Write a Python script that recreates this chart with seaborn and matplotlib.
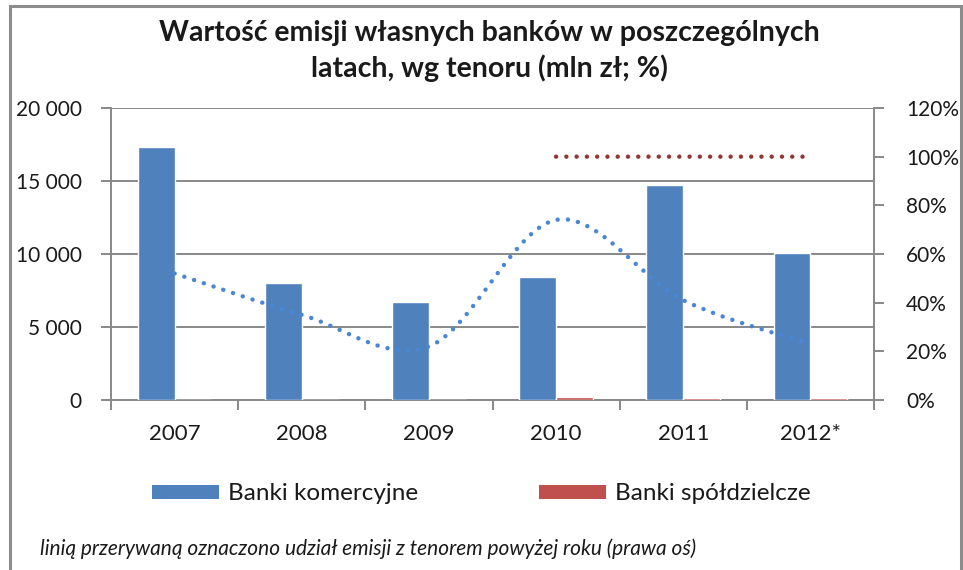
import numpy as np
import pandas as pd
import matplotlib
matplotlib.use("Agg")
import matplotlib.pyplot as plt
from matplotlib.path import Path
from matplotlib.patches import PathPatch, Patch, Rectangle
from matplotlib.ticker import FuncFormatter
import seaborn as sns

# data
years = ["2007", "2008", "2009", "2010", "2011", "2012*"]
komercyjne = [17300, 8000, 6700, 8400, 14700, 10100]      # mln zl
spoldzielcze = [0, 0, 0, 200, 150, 150]                   # mln zl
tenor_kom = [0.52, 0.35, 0.22, 0.74, 0.41, 0.23]          # share > 1 year
tenor_spol_years = ["2010", "2011", "2012*"]
tenor_spol = [1.0, 1.0, 1.0]

series_names = ["Banki komercyjne", "Banki spółdzielcze"]
blue = "#4F81BD"
red = "#C0504D"
grid_col = "#888888"

sns.set_theme(style="white")
plt.rcParams["font.family"] = ["Lato", "DejaVu Sans"]

df = pd.DataFrame({
    "rok": years * 2,
    "wartosc": komercyjne + spoldzielcze,
    "typ": [series_names[0]] * len(years) + [series_names[1]] * len(years),
})

fig = plt.figure(figsize=(9.63, 5.70), dpi=100)
ax = fig.add_axes([111 / 963, 1 - 400 / 570, (874 - 111) / 963, (400 - 108) / 570])

sns.barplot(data=df, x="rok", y="wartosc", hue="typ", order=years,
            hue_order=series_names, palette=[blue, red], width=0.58, gap=0,
            saturation=1, legend=False, ax=ax, zorder=3)

ax.set_xlim(-0.5, len(years) - 0.5)
ax.set_ylim(0, 20000)
ax.set_yticks(np.arange(0, 20001, 5000))
ax.yaxis.set_major_formatter(FuncFormatter(lambda v, p: f"{int(v):,}".replace(",", " ")))
ax.set_xlabel("")
ax.set_ylabel("")
ax.grid(axis="y", color=grid_col, linewidth=1.4, zorder=0)
ax.set_axisbelow(True)
for s in ["top", "right"]:
    ax.spines[s].set_visible(False)
for s in ["left", "bottom"]:
    ax.spines[s].set_color(grid_col)
    ax.spines[s].set_linewidth(1.4)

# category boundary ticks on x, labels at centres
ax.set_xticks(np.arange(-0.5, len(years), 1.0), minor=True)
ax.tick_params(axis="x", which="minor", length=7, width=1.4, color=grid_col, direction="out", bottom=True)
ax.tick_params(axis="x", which="major", length=0, pad=17, labelsize=16, labelcolor="#1a1a1a")
ax.tick_params(axis="y", length=7, width=1.4, color=grid_col, direction="out", pad=14,
               labelsize=15, labelcolor="#1a1a1a")

ax2 = ax.twinx()
ax2.set_ylim(0, 1.2)
ax2.set_yticks(np.arange(0, 1.21, 0.2))
ax2.yaxis.set_major_formatter(FuncFormatter(lambda v, p: f"{v * 100:.0f}%"))
ax2.tick_params(axis="y", length=7, width=1.4, color=grid_col, direction="out", pad=16,
                labelsize=15, labelcolor="#1a1a1a")
for s in ["top", "left", "bottom"]:
    ax2.spines[s].set_visible(False)
ax2.spines["right"].set_color(grid_col)
ax2.spines["right"].set_linewidth(1.4)
ax2.grid(False)


def smooth_path(xs, ys):
    # Excel-like smoothed line: cubic Bezier through the points (Catmull-Rom tangents)
    pts = np.column_stack([xs, ys]).astype(float)
    n = len(pts)
    verts = [pts[0]]
    codes = [Path.MOVETO]
    for i in range(n - 1):
        p0 = pts[max(i - 1, 0)]
        p1 = pts[i]
        p2 = pts[i + 1]
        p3 = pts[min(i + 2, n - 1)]
        c1 = p1 + (p2 - p0) / 6.0
        c2 = p2 - (p3 - p1) / 6.0
        verts += [c1, c2, p2]
        codes += [Path.CURVE4] * 3
    return Path(verts, codes)


x_kom = [years.index(y) for y in years]
x_spol = [years.index(y) for y in tenor_spol_years]
for xs, ys, col in [(x_kom, tenor_kom, "#4A86D6"), (x_spol, tenor_spol, "#943634")]:
    patch = PathPatch(smooth_path(xs, ys), facecolor="none", edgecolor=col,
                      linewidth=3.2, linestyle=(0, (0.01, 2.3)), capstyle="round", zorder=4)
    ax2.add_patch(patch)

# title
fig.text(0.508, 1 - 51 / 570, "Wartość emisji własnych banków w poszczególnych\nlatach, wg tenoru (mln zł; %)",
         ha="center", va="center", fontsize=20.5, fontweight="bold", linespacing=1.33, color="#1a1a1a")

# legend
handles = [Patch(facecolor=blue, edgecolor="none"), Patch(facecolor=red, edgecolor="none")]
fig.legend(handles, series_names, loc="center left", bbox_to_anchor=(152 / 963, 1 - 494 / 570),
           ncol=2, frameon=False, fontsize=17.5, handlelength=2.75, handleheight=0.55,
           handletextpad=0.37, columnspacing=5.0, borderpad=0, borderaxespad=0,
           labelcolor="#1a1a1a")

# footnote
fig.text(40 / 963, 1 - 549 / 570,
         "linią przerywaną oznaczono udział emisji z tenorem powyżej roku (prawa oś)",
         ha="left", va="center", fontsize=15, style="italic", color="#1a1a1a")

# outer chart frame
fig.patches.append(Rectangle((9.5 / 963, -0.05), (961 - 9.5) / 963, 1.05 - 6.5 / 570,
                             transform=fig.transFigure, fill=False, edgecolor="#8C8C8C",
                             linewidth=2.2, zorder=0))

fig.savefig("out.png", dpi=100, facecolor="white")
